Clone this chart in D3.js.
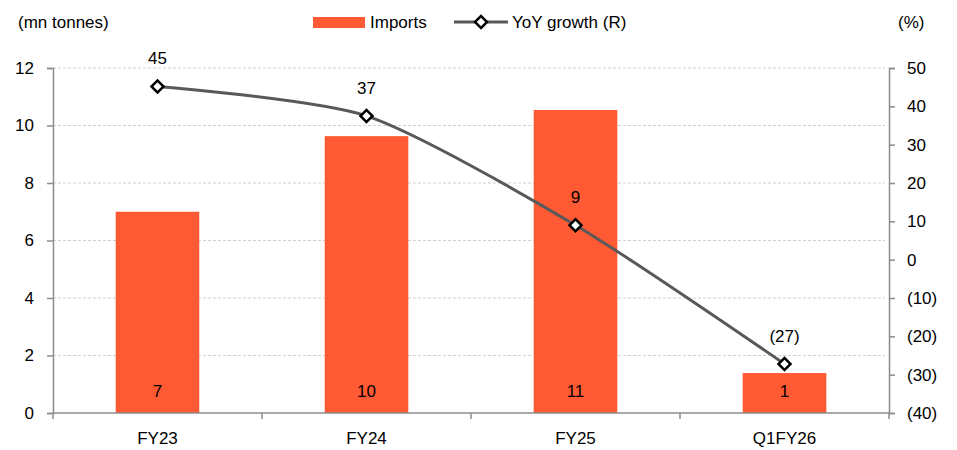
<!DOCTYPE html>
<html>
<head>
<meta charset="utf-8">
<script src="https://cdn.jsdelivr.net/npm/d3@7/dist/d3.min.js"></script>
<style>
  body { margin: 0; background: #fff; }
  svg text { font-family: "Liberation Sans", Arial, sans-serif; fill: #000; }
</style>
</head>
<body>
<svg id="chart" width="957" height="450"></svg>
<script>
const categories = ['FY23', 'FY24', 'FY25', 'Q1FY26'];
const imports = [7.0, 9.63, 10.54, 1.39];
const importLabels = ['7', '10', '11', '1'];
const yoyGrowth = [45.2, 37.5, 9.0, -27.2];
const yoyLabels = ['45', '37', '9', '(27)'];
const leftTicks = [0, 2, 4, 6, 8, 10, 12];
const rightTicks = [-40, -30, -20, -10, 0, 10, 20, 30, 40, 50];

const barColor = '#ff5a33';
const lineColor = '#595959';
const axisColor = '#8c8c8c';
const fs = 17;

const svg = d3.select('#chart');
const plotLeft = 53, plotRight = 889, plotTop = 68, plotBottom = 413;

const x = d3.scaleBand().domain(categories).range([plotLeft, plotRight]).paddingInner(0.6).paddingOuter(0.3);
const yL = d3.scaleLinear().domain([0, 12]).range([plotBottom, plotTop]);
const yR = d3.scaleLinear().domain([-40, 50]).range([plotBottom, plotTop]);
const cx = c => x(c) + x.bandwidth() / 2;

// gridlines
svg.append('g')
  .selectAll('line')
  .data(leftTicks.filter(d => d > 0))
  .join('line')
  .attr('x1', plotLeft).attr('x2', plotRight - 4)
  .attr('y1', d => yL(d)).attr('y2', d => yL(d))
  .attr('stroke', '#d0d0d0')
  .attr('stroke-width', 1)
  .attr('stroke-dasharray', '3,2');

// bars
svg.append('g')
  .selectAll('rect')
  .data(imports)
  .join('rect')
  .attr('x', (d, i) => x(categories[i]))
  .attr('y', d => yL(d))
  .attr('width', x.bandwidth())
  .attr('height', d => plotBottom - yL(d))
  .attr('fill', barColor);

// bar labels
svg.append('g')
  .selectAll('text')
  .data(importLabels)
  .join('text')
  .attr('x', (d, i) => cx(categories[i]))
  .attr('y', plotBottom - 16)
  .attr('text-anchor', 'middle')
  .attr('font-size', fs)
  .text(d => d);

// axes
const styleAxis = g => {
  g.select('.domain').attr('stroke', axisColor).attr('stroke-width', 1.5);
  g.selectAll('.tick line').attr('stroke', axisColor).attr('stroke-width', 1.5);
  g.selectAll('.tick text').attr('font-size', fs).attr('font-family', '"Liberation Sans", Arial, sans-serif').attr('fill', '#000');
};

svg.append('g')
  .attr('transform', `translate(${plotLeft},0)`)
  .call(d3.axisLeft(yL).tickValues(leftTicks).tickSize(6).tickSizeOuter(6).tickPadding(13))
  .call(styleAxis);

svg.append('g')
  .attr('transform', `translate(${plotRight},0)`)
  .call(d3.axisRight(yR).tickValues(rightTicks).tickSize(6).tickSizeOuter(6).tickPadding(12)
    .tickFormat(d => d < 0 ? `(${-d})` : `${d}`))
  .call(styleAxis);

// x axis with ticks at band boundaries
const xAxis = svg.append('g').attr('transform', `translate(0,${plotBottom})`);
xAxis.append('line')
  .attr('x1', plotLeft).attr('x2', plotRight)
  .attr('stroke', axisColor).attr('stroke-width', 1.5);
const boundaries = d3.range(categories.length + 1).map(i => plotLeft + i * (plotRight - plotLeft) / categories.length);
xAxis.selectAll('.tk')
  .data(boundaries)
  .join('line')
  .attr('class', 'tk')
  .attr('x1', d => d).attr('x2', d => d)
  .attr('y1', 0).attr('y2', 6)
  .attr('stroke', axisColor).attr('stroke-width', 1.5);
xAxis.selectAll('text')
  .data(categories)
  .join('text')
  .attr('x', d => cx(d))
  .attr('y', 31)
  .attr('text-anchor', 'middle')
  .attr('font-size', fs)
  .text(d => d);

// line
const pts = yoyGrowth.map((v, i) => [cx(categories[i]), yR(v)]);
svg.append('path')
  .datum(pts)
  .attr('fill', 'none')
  .attr('stroke', lineColor)
  .attr('stroke-width', 3)
  .attr('d', d3.line().curve(d3.curveCardinal.tension(0.3)));

const diamond = d3.symbol().type(d3.symbolSquare).size(72);
svg.append('g')
  .selectAll('path')
  .data(pts)
  .join('path')
  .attr('transform', d => `translate(${d[0]},${d[1]}) rotate(45)`)
  .attr('d', diamond)
  .attr('fill', '#fff')
  .attr('stroke', '#000')
  .attr('stroke-width', 2.5);

svg.append('g')
  .selectAll('text')
  .data(yoyLabels)
  .join('text')
  .attr('x', (d, i) => pts[i][0])
  .attr('y', (d, i) => pts[i][1] - 22)
  .attr('text-anchor', 'middle')
  .attr('font-size', fs)
  .text(d => d);

// unit labels
svg.append('text').attr('x', 18).attr('y', 28).attr('font-size', fs).text('(mn tonnes)');
svg.append('text').attr('x', 898).attr('y', 28).attr('font-size', fs).text('(%)');

// legend
const lg = svg.append('g');
lg.append('rect').attr('x', 313).attr('y', 17).attr('width', 52).attr('height', 11).attr('fill', barColor);
lg.append('text').attr('x', 370).attr('y', 28).attr('font-size', fs).text('Imports');
lg.append('line').attr('x1', 454).attr('x2', 508).attr('y1', 22).attr('y2', 22)
  .attr('stroke', lineColor).attr('stroke-width', 3);
lg.append('path').attr('transform', 'translate(481,22) rotate(45)').attr('d', diamond)
  .attr('fill', '#fff').attr('stroke', '#000').attr('stroke-width', 2.5);
lg.append('text').attr('x', 512).attr('y', 28).attr('font-size', fs).text('YoY growth (R)');
</script>
</body>
</html>
